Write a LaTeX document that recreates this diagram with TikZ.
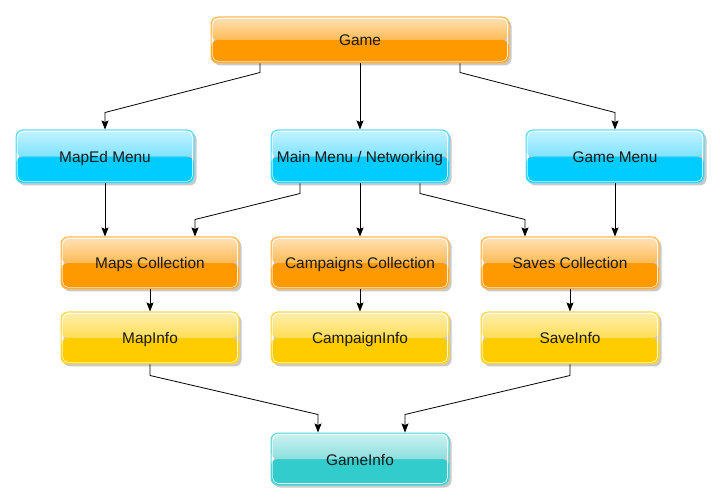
\documentclass[tikz,border=0pt]{standalone}
\usepackage{fontspec}
\setmainfont{Liberation Sans}
\usetikzlibrary{shadows,arrows.meta}
\definecolor{orTop}{HTML}{FFE2B8}\definecolor{orMid}{HTML}{FFBB55}\definecolor{orBot}{HTML}{FF9900}\definecolor{orEdge}{HTML}{FFB84D}
\definecolor{blTop}{HTML}{C4F3FF}\definecolor{blMid}{HTML}{7FE2FF}\definecolor{blBot}{HTML}{00CCFF}\definecolor{blEdge}{HTML}{55DDFF}
\definecolor{yeTop}{HTML}{FFEFB0}\definecolor{yeMid}{HTML}{FFDD55}\definecolor{yeBot}{HTML}{FFCC00}\definecolor{yeEdge}{HTML}{FFD740}
\definecolor{teTop}{HTML}{CCF2F2}\definecolor{teMid}{HTML}{8EDEDE}\definecolor{teBot}{HTML}{33CCCC}\definecolor{teEdge}{HTML}{5CD6D6}
\tikzset{
  gbox/.style={rounded corners=7pt, minimum width=178pt, minimum height=52pt,
    draw=#1Edge, line width=1pt, inner sep=0pt, text height=12pt, text depth=0pt,
    font=\fontsize{15.4}{18}\selectfont, text=black!90,
    drop shadow={shadow xshift=2.5pt, shadow yshift=-2.5pt, opacity=0.35, fill=black!60},
    path picture={
      \fill[#1Bot] (path picture bounding box.south west) rectangle (path picture bounding box.east);
      \shade[top color=#1Top, bottom color=#1Mid] (path picture bounding box.north west) rectangle (path picture bounding box.east);
      \draw[white, line width=0.7pt, rounded corners=5.5pt, opacity=0.85]
        ([shift={(1.6pt,1.6pt)}]path picture bounding box.south west) rectangle
        ([shift={(-1.6pt,-1.6pt)}]path picture bounding box.north east);
    }},
  arr/.style={draw=black, line width=0.8pt, -{Stealth[length=9pt,width=7pt,inset=1.5pt]}}
}
\begin{document}
\begin{tikzpicture}[x=1pt,y=-1pt]
\useasboundingbox[fill=white] (0,0) rectangle (720,502);
\node[gbox=or, minimum width=298pt, minimum height=46pt] (game) at (360,40) {Game};
\node[gbox=bl, minimum height=53pt] (maped) at (105,156.5) {MapEd Menu};
\node[gbox=bl, minimum height=53pt] (main) at (360,156.5) {Main Menu / Networking};
\node[gbox=bl, minimum height=53pt] (gmenu) at (615,156.5) {Game Menu};
\node[gbox=or] (maps) at (150,263) {Maps Collection};
\node[gbox=or] (camp) at (360,263) {Campaigns Collection};
\node[gbox=or] (saves) at (570,263) {Saves Collection};
\node[gbox=ye] (mapinfo) at (150,338) {MapInfo};
\node[gbox=ye] (campinfo) at (360,338) {CampaignInfo};
\node[gbox=ye] (saveinfo) at (570,338) {SaveInfo};
\node[gbox=te] (gameinfo) at (360,459) {GameInfo};

\draw[arr] ([xshift=-100pt]game.south) -- ++(0,9) -- ([yshift=17pt]maped.north) -- (maped.north);
\draw[arr] (game.south) -- (main.north);
\draw[arr] ([xshift=100pt]game.south) -- ++(0,9) -- ([yshift=17pt]gmenu.north) -- (gmenu.north);
\draw[arr] (maped.south) -- ([xshift=-45pt]maps.north);
\draw[arr] ([xshift=-60pt]main.south) -- ++(0,10) -- ([xshift=45pt,yshift=17pt]maps.north) -- ([xshift=45pt]maps.north);
\draw[arr] (main.south) -- (camp.north);
\draw[arr] ([xshift=60pt]main.south) -- ++(0,10) -- ([xshift=-45pt,yshift=17pt]saves.north) -- ([xshift=-45pt]saves.north);
\draw[arr] (gmenu.south) -- ([xshift=45pt]saves.north);
\draw[arr] (maps.south) -- (mapinfo.north);
\draw[arr] (camp.south) -- (campinfo.north);
\draw[arr] (saves.south) -- (saveinfo.north);
\draw[arr] (mapinfo.south) -- ++(0,11) -- ([xshift=-42pt,yshift=18pt]gameinfo.north) -- ([xshift=-42pt]gameinfo.north);
\draw[arr] (saveinfo.south) -- ++(0,11) -- ([xshift=45pt,yshift=18pt]gameinfo.north) -- ([xshift=45pt]gameinfo.north);
\end{tikzpicture}
\end{document}
